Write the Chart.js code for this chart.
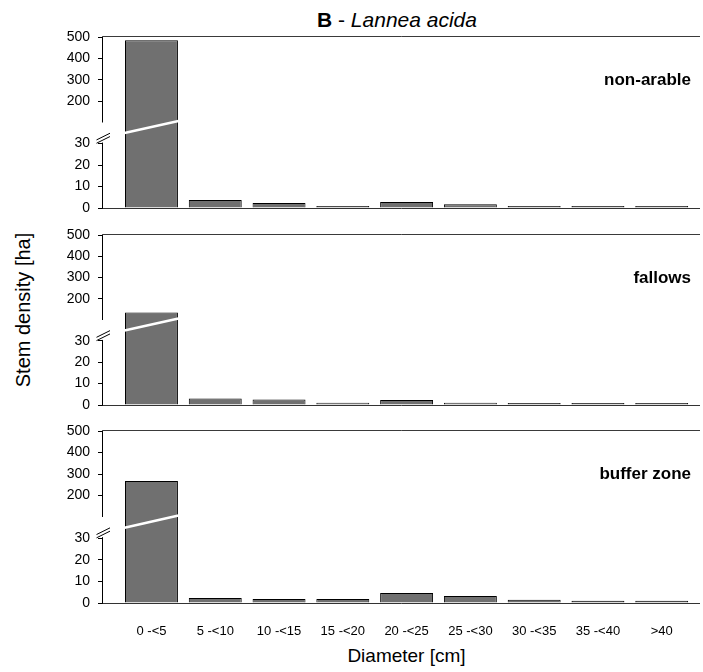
<!DOCTYPE html>
<html><head><meta charset="utf-8">
<script src="https://cdn.jsdelivr.net/npm/chart.js@4.4.1/dist/chart.umd.min.js"></script>
<style>
html,body{margin:0;padding:0;background:#fff;}
#wrap{position:relative;width:703px;height:672px;overflow:hidden;font-family:'Liberation Sans',Arial,sans-serif;color:#000;}
canvas{position:absolute;left:0;}
.t{position:absolute;white-space:nowrap;}
</style></head><body>
<div id="wrap">
<div class="t" style="left:397px;top:9px;font-size:21px;line-height:21px;transform:translateX(-50%);"><b>B</b> - <i>Lannea acida</i></div>
<div class="t" style="left:22.5px;top:310px;font-size:20px;line-height:20px;transform:translate(-50%,-50%) rotate(-90deg);">Stem density [ha]</div>
<div class="t" style="left:406.5px;top:645.6px;font-size:19px;line-height:19px;transform:translateX(-50%);">Diameter [cm]</div>
<canvas id="c1" width="703" height="205" style="top:20px"></canvas>
<canvas id="c2" width="703" height="204" style="top:218px"></canvas>
<canvas id="c3" width="703" height="229" style="top:414px"></canvas>
</div>
<script>
// ---- data ----
const categories = ['0 -<5','5 -<10','10 -<15','15 -<20','20 -<25','25 -<30','30 -<35','35 -<40','>40'];
const nonArable  = [485, 3.7, 2.3, 0.2, 2.8, 1.8, 0.2, 0.2, 0.2];
const fallows    = [135, 3.1, 2.6, 1.1, 2.3, 1.1, 0.6, 0.6, 0.2];
const bufferZone = [268, 2.3, 1.8, 1.8, 4.6, 3.2, 1.5, 1.0, 1.0];
const panelNames = ['non-arable', 'fallows', 'buffer zone'];
const yTicks = [0, 10, 20, 30, 200, 300, 400, 500];

// broken axis mapping: [value, fraction of axis height]
const yBreak = [[0, 0], [30, 0.377], [100, 0.5], [500, 1]];
const FONT = "'Liberation Sans', Arial, sans-serif";

class BrokenScale extends Chart.LinearScale {
  _frac(v) {
    const bp = yBreak;
    for (let i = 1; i < bp.length; i++) {
      if (v <= bp[i][0] || i === bp.length - 1) {
        const [v0, f0] = bp[i - 1], [v1, f1] = bp[i];
        return f0 + (v - v0) * (f1 - f0) / (v1 - v0);
      }
    }
  }
  _inv(f) {
    const bp = yBreak;
    for (let i = 1; i < bp.length; i++) {
      if (f <= bp[i][1] || i === bp.length - 1) {
        const [v0, f0] = bp[i - 1], [v1, f1] = bp[i];
        return v0 + (f - f0) * (v1 - v0) / (f1 - f0);
      }
    }
  }
  getPixelForValue(value) {
    if (value === null || value === undefined || isNaN(value)) return NaN;
    return this.getPixelForDecimal(this._frac(value));
  }
  getValueForPixel(pixel) {
    return this._inv(this.getDecimalForPixel(pixel));
  }
}
BrokenScale.id = 'broken';
BrokenScale.defaults = Chart.LinearScale.defaults;
Chart.register(BrokenScale);

function makeDecor(name, values) {
  return {
    id: 'decor',
    beforeDatasetsDraw(chart) {
      const {ctx, chartArea: a, scales: {y}} = chart;
      const p0 = Math.round(y.getPixelForValue(0)) + 0.5;
      const p30 = y.getPixelForValue(30);
      const p100 = y.getPixelForValue(100);
      const p500 = Math.round(y.getPixelForValue(500)) - 0.5;
      const xl = a.left - 0.5;
      ctx.save();
      ctx.lineWidth = 1;
      // top frame line
      ctx.strokeStyle = '#3a3a3a';
      ctx.beginPath(); ctx.moveTo(xl, p500); ctx.lineTo(a.right, p500); ctx.stroke();
      // x axis line
      ctx.strokeStyle = '#333';
      ctx.beginPath(); ctx.moveTo(xl, p0); ctx.lineTo(a.right, p0); ctx.stroke();
      // y axis segments
      ctx.strokeStyle = '#000';
      ctx.beginPath();
      ctx.moveTo(xl, p500); ctx.lineTo(xl, p100);
      ctx.moveTo(xl, p30 - 1); ctx.lineTo(xl, p0);
      ctx.stroke();
      // break marks
      ctx.beginPath();
      ctx.moveTo(a.left - 6.5, p30 - 0.3); ctx.lineTo(a.left + 7, p30 - 7);
      ctx.moveTo(a.left - 6.5, p30 - 3.6); ctx.lineTo(a.left + 7, p30 - 10.3);
      ctx.stroke();
      ctx.restore();
    },
    afterDatasetsDraw(chart) {
      const {ctx, chartArea: a, scales: {y}} = chart;
      const meta = chart.getDatasetMeta(0);
      ctx.save();
      ctx.strokeStyle = '#fff';
      ctx.lineWidth = 2.6;
      meta.data.forEach((bar, i) => {
        if (values[i] > 100) {
          const {x, width} = bar.getProps(['x', 'width'], true);
          ctx.beginPath();
          ctx.moveTo(x - width / 2 - 0.5, y.getPixelForValue(30) - 10.5);
          ctx.lineTo(x + width / 2 + 0.5, y.getPixelForValue(100) - 1.5);
          ctx.stroke();
        }
      });
      ctx.fillStyle = '#000';
      ctx.font = 'bold 17px ' + FONT;
      ctx.textAlign = 'right';
      ctx.textBaseline = 'alphabetic';
      ctx.fillText(name, 691, a.top + 48);
      ctx.restore();
    }
  };
}

function makeChart(id, values, name, showX) {
  return new Chart(document.getElementById(id), {
    type: 'bar',
    data: {
      datasets: [{
        data: values.map((v, i) => ({x: i, y: v})),
        backgroundColor: '#707070',
        borderColor: '#000',
        borderWidth: 1,
        minBarLength: 2,
        categoryPercentage: 1,
        barPercentage: 0.83
      }]
    },
    options: {
      responsive: false,
      animation: false,
      devicePixelRatio: 1,
      layout: {padding: {top: 17, bottom: showX ? 0 : 17, left: 0, right: 3}},
      plugins: {legend: {display: false}, tooltip: {enabled: false}},
      scales: {
        x: {
          type: 'linear', min: -0.76, max: 8.6, offset: false,
          display: showX,
          grid: {display: false},
          border: {display: false},
          afterBuildTicks: s => { s.ticks = categories.map((_, i) => ({value: i})); },
          afterFit: s => { s.height = showX ? 40 : 0; },
          ticks: {
            autoSkip: false, maxRotation: 0, minRotation: 0, padding: 13, color: '#000',
            font: {family: FONT, size: 13},
            callback: v => categories[v]
          }
        },
        y: {
          type: 'broken', min: 0, max: 500,
          afterBuildTicks: s => { s.ticks = yTicks.map(v => ({value: v})); },
          afterFit: s => { s.width = 103; },
          border: {display: false},
          grid: {drawOnChartArea: false, drawTicks: true, tickLength: 5, color: '#000', tickColor: '#000', lineWidth: 1},
          ticks: {
            autoSkip: false, padding: 8, color: '#000',
            font: {family: FONT, size: 14},
            callback: v => String(v)
          }
        }
      }
    },
    plugins: [makeDecor(name, values)]
  });
}

makeChart('c1', nonArable, panelNames[0], false);
makeChart('c2', fallows, panelNames[1], false);
makeChart('c3', bufferZone, panelNames[2], true);
</script>
</body></html>
